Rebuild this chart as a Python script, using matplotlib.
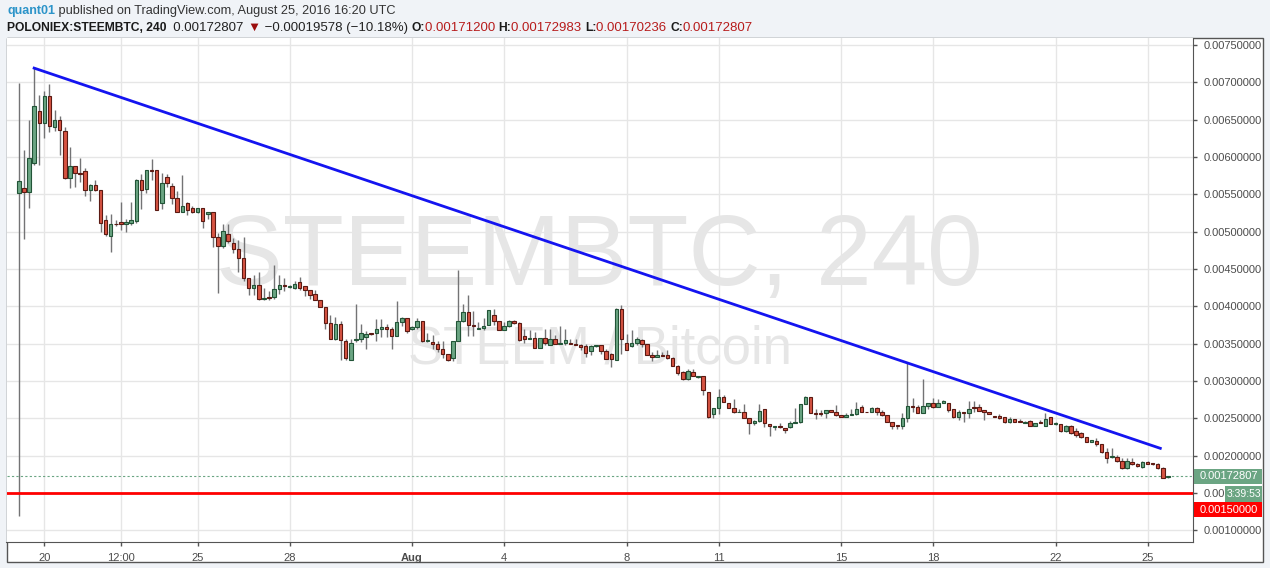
import numpy as np
import pandas as pd
import matplotlib
matplotlib.use('Agg')
import matplotlib.pyplot as plt
import matplotlib.dates as mdates
import matplotlib.transforms as mtransforms
from matplotlib.patches import Rectangle

plt.rcParams['font.family'] = ['Liberation Sans', 'DejaVu Sans']

# POLONIEX:STEEMBTC, 4h candles
start_time = '2016-07-19 04:00'

opens = [
    0.005524, 0.005591, 0.005533, 0.005913, 0.00662, 0.00645, 0.006812, 0.006396, 0.00649, 0.006347,
    0.005725, 0.005886, 0.005792, 0.005819, 0.005564, 0.005631, 0.005564, 0.005161, 0.004946, 0.005107,
    0.005134, 0.005107, 0.005116, 0.005143, 0.005688, 0.005567, 0.005821, 0.005821, 0.005388, 0.005732,
    0.005607, 0.005446, 0.005263, 0.005379, 0.005312, 0.005263, 0.005312, 0.005232, 0.005259, 0.004924,
    0.004804, 0.004973, 0.004844, 0.004763, 0.004643, 0.004375, 0.004248, 0.004288, 0.004101, 0.00412,
    0.004123, 0.004235, 0.004288, 0.004257, 0.004248, 0.004328, 0.004275, 0.004221, 0.004168, 0.004079,
    0.00399, 0.003781, 0.003567, 0.003767, 0.003536, 0.003278, 0.003545, 0.003558, 0.003586, 0.00364,
    0.00364, 0.003697, 0.003729, 0.003697, 0.0036, 0.003795, 0.003844, 0.003697, 0.003729, 0.003804,
    0.003542, 0.00353, 0.003497, 0.00343, 0.003364, 0.003306, 0.003542, 0.003804, 0.003929, 0.003751,
    0.003701, 0.00371, 0.003755, 0.003888, 0.0038, 0.003688, 0.003737, 0.0038, 0.003782, 0.003603,
    0.003567, 0.00358, 0.003447, 0.00358, 0.003487, 0.003567, 0.0035, 0.003514, 0.003514, 0.0035,
    0.003487, 0.003465, 0.003398, 0.003465, 0.003478, 0.0034, 0.003368, 0.003279, 0.00396, 0.003515,
    0.003471, 0.003515, 0.003555, 0.003502, 0.003355, 0.003324, 0.00335, 0.003346, 0.003315, 0.003203,
    0.003123, 0.003025, 0.003123, 0.003057, 0.00307, 0.002848, 0.002554, 0.002634, 0.002781, 0.00271,
    0.002643, 0.00259, 0.00259, 0.0025, 0.002434, 0.002469, 0.002621, 0.002425, 0.002389, 0.002398,
    0.002367, 0.002389, 0.002434, 0.002456, 0.002692, 0.002781, 0.00257, 0.00257, 0.002567, 0.002612,
    0.002581, 0.002545, 0.002514, 0.002545, 0.002554, 0.002657, 0.00259, 0.002581, 0.002634, 0.002581,
    0.002545, 0.002447, 0.002411, 0.002393, 0.0025, 0.002665, 0.00265, 0.002567, 0.002665, 0.002701,
    0.002656, 0.002701, 0.002701, 0.00262, 0.002522, 0.00258, 0.002567, 0.002647, 0.002647, 0.002612,
    0.00258, 0.002536, 0.002536, 0.002513, 0.002455, 0.002491, 0.00246, 0.002433, 0.002464, 0.002402,
    0.002455, 0.002402, 0.002513, 0.002429, 0.00242, 0.00233, 0.002402, 0.00233, 0.0023, 0.002255,
    0.00219, 0.0022, 0.002152, 0.002054, 0.001987, 0.001978, 0.001929, 0.001831, 0.00192, 0.001885,
    0.001845, 0.001911, 0.001898, 0.001885, 0.001831, 0.001712,
]
highs = [
    0.006987, 0.006092, 0.006494, 0.007188, 0.00683, 0.006884, 0.006978, 0.006629, 0.006548, 0.006405,
    0.006128, 0.005886, 0.005993, 0.005859, 0.005644, 0.005689, 0.005564, 0.005219, 0.005233, 0.00515,
    0.005398, 0.005175, 0.005398, 0.0057, 0.005768, 0.00583, 0.00597, 0.005821, 0.00579, 0.00577,
    0.005656, 0.005545, 0.005759, 0.0054, 0.005344, 0.00532, 0.00532, 0.005259, 0.005259, 0.004987,
    0.005098, 0.005107, 0.00492, 0.004884, 0.004929, 0.004375, 0.004426, 0.004466, 0.004248, 0.004203,
    0.004559, 0.004426, 0.004381, 0.00428, 0.004346, 0.004399, 0.004275, 0.004221, 0.004221, 0.004079,
    0.00399, 0.003879, 0.003857, 0.0038, 0.00357, 0.00357, 0.004034, 0.003758, 0.003675, 0.00365,
    0.003831, 0.003831, 0.003764, 0.003729, 0.004067, 0.003862, 0.003844, 0.00374, 0.003844, 0.003804,
    0.00364, 0.003622, 0.003542, 0.003542, 0.003364, 0.003542, 0.004485, 0.004031, 0.004156, 0.003942,
    0.00379, 0.003844, 0.003946, 0.003969, 0.0038, 0.00379, 0.003813, 0.003813, 0.00379, 0.003692,
    0.00368, 0.003657, 0.00358, 0.003692, 0.003692, 0.003612, 0.003732, 0.003692, 0.00357, 0.00357,
    0.0035, 0.0035, 0.003478, 0.003478, 0.003478, 0.003434, 0.00338, 0.003978, 0.004013, 0.003635,
    0.00368, 0.00359, 0.003568, 0.003502, 0.00339, 0.003413, 0.00339, 0.003413, 0.003324, 0.003221,
    0.003132, 0.003159, 0.003159, 0.00307, 0.00307, 0.002848, 0.002634, 0.002888, 0.002813, 0.00271,
    0.002755, 0.00262, 0.002692, 0.00251, 0.002478, 0.002692, 0.002621, 0.002425, 0.002405, 0.002434,
    0.002367, 0.002469, 0.002634, 0.002692, 0.002799, 0.002781, 0.002621, 0.002608, 0.002612, 0.002612,
    0.002679, 0.002545, 0.002567, 0.002625, 0.002715, 0.002679, 0.00259, 0.002657, 0.002657, 0.002612,
    0.002545, 0.002447, 0.002411, 0.002567, 0.003236, 0.002768, 0.00268, 0.003027, 0.002701, 0.002768,
    0.002759, 0.002745, 0.002701, 0.00262, 0.002612, 0.00258, 0.002732, 0.002732, 0.0027, 0.002612,
    0.00258, 0.002536, 0.002553, 0.002522, 0.002522, 0.002491, 0.002491, 0.00246, 0.002478, 0.002433,
    0.002478, 0.002567, 0.002522, 0.002455, 0.00243, 0.00241, 0.002415, 0.002366, 0.00232, 0.002255,
    0.00221, 0.002232, 0.002152, 0.002099, 0.002099, 0.00201, 0.001965, 0.001965, 0.001974, 0.001898,
    0.001929, 0.001933, 0.001905, 0.001898, 0.001853, 0.00172983,
]
lows = [
    0.001193, 0.004906, 0.005318, 0.00589, 0.00589, 0.006257, 0.006338, 0.006347, 0.006025, 0.005712,
    0.005586, 0.0056, 0.005667, 0.005479, 0.005412, 0.005546, 0.004996, 0.004942, 0.004727, 0.00508,
    0.005027, 0.004996, 0.005085, 0.00512, 0.005299, 0.005522, 0.005688, 0.005286, 0.0053, 0.0056,
    0.005366, 0.00526, 0.00526, 0.005223, 0.005246, 0.00525, 0.005054, 0.005165, 0.004795, 0.004183,
    0.004786, 0.00485, 0.004719, 0.004464, 0.00434, 0.00415, 0.004159, 0.00409, 0.004079, 0.00408,
    0.004101, 0.004168, 0.004204, 0.00425, 0.004239, 0.00422, 0.004145, 0.0041, 0.004079, 0.00399,
    0.003692, 0.003567, 0.003545, 0.003287, 0.003287, 0.003278, 0.003523, 0.003523, 0.00343, 0.00362,
    0.003542, 0.00359, 0.003586, 0.00343, 0.0036, 0.00374, 0.00364, 0.00368, 0.003697, 0.00352,
    0.00352, 0.00343, 0.003386, 0.00331, 0.003266, 0.00327, 0.00354, 0.003786, 0.003608, 0.003608,
    0.0037, 0.003679, 0.003746, 0.003746, 0.003679, 0.003679, 0.003725, 0.00377, 0.003536, 0.003514,
    0.003567, 0.003447, 0.003447, 0.003478, 0.003478, 0.00349, 0.0035, 0.003487, 0.0035, 0.00348,
    0.00342, 0.003322, 0.003353, 0.00345, 0.003368, 0.003301, 0.00319, 0.003279, 0.003368, 0.003413,
    0.003458, 0.003478, 0.00346, 0.003346, 0.003266, 0.003324, 0.00333, 0.003301, 0.003203, 0.003079,
    0.003012, 0.003012, 0.00307, 0.003035, 0.002812, 0.0025, 0.0025, 0.002554, 0.002723, 0.002643,
    0.002567, 0.00258, 0.0025, 0.002291, 0.002415, 0.002456, 0.002389, 0.002264, 0.002345, 0.002367,
    0.002309, 0.002367, 0.002434, 0.002443, 0.002692, 0.002567, 0.002487, 0.002527, 0.0025, 0.002581,
    0.002536, 0.002514, 0.002514, 0.002545, 0.002545, 0.002581, 0.002581, 0.002581, 0.002545, 0.002536,
    0.002447, 0.002358, 0.002358, 0.002358, 0.002456, 0.002581, 0.002567, 0.002567, 0.002621, 0.002634,
    0.002656, 0.002701, 0.00259, 0.0025, 0.002478, 0.002446, 0.0025, 0.00259, 0.002594, 0.002478,
    0.002562, 0.002522, 0.002491, 0.002433, 0.002433, 0.002446, 0.002446, 0.002433, 0.002402, 0.002402,
    0.002433, 0.002402, 0.00242, 0.00241, 0.00232, 0.00232, 0.00229, 0.002255, 0.00224, 0.00218,
    0.002185, 0.002134, 0.002032, 0.001898, 0.001965, 0.001911, 0.001822, 0.001822, 0.001876, 0.00185,
    0.00184, 0.001885, 0.00188, 0.001822, 0.001697, 0.00170236,
]
closes = [
    0.00568, 0.005537, 0.00598, 0.006678, 0.00645, 0.006812, 0.006409, 0.00649, 0.006356, 0.005725,
    0.005886, 0.005792, 0.005774, 0.005564, 0.005631, 0.005564, 0.005121, 0.004973, 0.005107, 0.0051,
    0.005107, 0.005134, 0.005161, 0.005688, 0.005554, 0.005821, 0.005815, 0.005286, 0.005656, 0.005647,
    0.005446, 0.005263, 0.005339, 0.00529, 0.005263, 0.005312, 0.005138, 0.005259, 0.004924, 0.004804,
    0.005009, 0.004875, 0.004763, 0.004643, 0.004375, 0.004241, 0.004288, 0.004101, 0.00411, 0.004112,
    0.004235, 0.004288, 0.00427, 0.004271, 0.004301, 0.004248, 0.004221, 0.004146, 0.004079, 0.00399,
    0.003781, 0.003567, 0.003767, 0.003545, 0.003313, 0.003509, 0.003558, 0.003643, 0.003631, 0.003631,
    0.003697, 0.003729, 0.003697, 0.0036, 0.003795, 0.003844, 0.003666, 0.003729, 0.003804, 0.003542,
    0.003555, 0.003497, 0.00343, 0.003364, 0.003284, 0.003542, 0.003809, 0.003929, 0.003751, 0.003733,
    0.003715, 0.003732, 0.003946, 0.003804, 0.003688, 0.003732, 0.0038, 0.003782, 0.003545, 0.003567,
    0.00358, 0.003447, 0.00358, 0.003514, 0.003567, 0.0035, 0.003514, 0.003554, 0.0035, 0.003487,
    0.003456, 0.00338, 0.003465, 0.003478, 0.0034, 0.003301, 0.003292, 0.00396, 0.003568, 0.003422,
    0.003515, 0.003568, 0.003493, 0.003355, 0.003324, 0.003355, 0.00334, 0.003315, 0.003203, 0.003114,
    0.003025, 0.003132, 0.00307, 0.00307, 0.002879, 0.002514, 0.002634, 0.002781, 0.002723, 0.002643,
    0.00259, 0.00259, 0.0025, 0.002434, 0.002469, 0.002599, 0.002434, 0.002398, 0.002398, 0.00239,
    0.002349, 0.002434, 0.002456, 0.002692, 0.002781, 0.002576, 0.002554, 0.002558, 0.002612, 0.002581,
    0.002545, 0.002514, 0.002545, 0.002558, 0.002625, 0.00259, 0.002581, 0.002634, 0.002581, 0.002545,
    0.002447, 0.002402, 0.002393, 0.0025, 0.002665, 0.002648, 0.002567, 0.002665, 0.002701, 0.002648,
    0.002701, 0.002732, 0.002612, 0.002522, 0.00258, 0.002567, 0.00262, 0.002638, 0.002603, 0.00258,
    0.002562, 0.002522, 0.0025, 0.002455, 0.002491, 0.002455, 0.002455, 0.002446, 0.002402, 0.002433,
    0.002433, 0.002491, 0.00242, 0.002433, 0.00233, 0.002402, 0.0023, 0.002277, 0.002255, 0.002188,
    0.002205, 0.002152, 0.002054, 0.001965, 0.001996, 0.001929, 0.001831, 0.001929, 0.001885, 0.001862,
    0.001911, 0.001893, 0.001885, 0.001831, 0.001706, 0.00172807,
]

tick_dates = ['2016-07-20 00:00', '2016-07-22 12:00', '2016-07-25 00:00', '2016-07-28 00:00',
              '2016-08-01 00:00', '2016-08-04 00:00', '2016-08-08 00:00', '2016-08-11 00:00',
              '2016-08-15 00:00', '2016-08-18 00:00', '2016-08-22 00:00', '2016-08-25 00:00']
tick_labels = ['20', '12:00', '25', '28', 'Aug', '4', '8', '11', '15', '18', '22', '25']
price_ticks = [0.0010, 0.0015, 0.0020, 0.0025, 0.0030, 0.0035, 0.0040,
               0.0045, 0.0050, 0.0055, 0.0060, 0.0065, 0.0070, 0.0075]

# drawn lines
trend_x = ['2016-07-19 16:00', '2016-08-25 10:00']
trend_y = [0.00719, 0.00210]
support_level = 0.0015
last_price = 0.00172807
countdown = '3:39:53'

# ---- figure layout (pixels) ----
W, H = 1270, 568
def fx(px):
    return px / W
def fy(py):
    return 1 - py / H

BORDER = '#555555'
fig = plt.figure(figsize=(W / 100, H / 100), dpi=100, facecolor='#f0f3f7')
fig.add_artist(Rectangle((fx(6.5), fy(561.5)), fx(1262.5) - fx(6.5), fy(38) - fy(561.5),
                         transform=fig.transFigure, facecolor='white', edgecolor=BORDER,
                         lw=1, zorder=0))
ax = fig.add_axes([fx(6.5), fy(542), fx(1193) - fx(6.5), fy(38) - fy(542)])
ax.set_facecolor('white')

times = pd.date_range(start_time, periods=len(closes), freq='4h')
xt = mdates.date2num(times)
step = 1 / 6
o = np.array(opens)
c = np.array(closes)
up = c >= o

ax.vlines(xt, lows, highs, color='#737375', lw=1, zorder=2)
ax.bar(xt[up], (c - o)[up], bottom=o[up], width=0.68 * step, color='#6ba583',
       edgecolor='#225437', lw=0.8, zorder=3)
ax.bar(xt[~up], (o - c)[~up], bottom=c[~up], width=0.68 * step, color='#d75442',
       edgecolor='#5b1a13', lw=0.8, zorder=3)

ax.plot(mdates.date2num(pd.to_datetime(trend_x)), trend_y, color='#1414f0', lw=2, zorder=4)
ax.axhline(support_level, color='#ff0000', lw=2, zorder=4)
ax.axhline(last_price, color='#6ba583', lw=0.8, ls=(0, (2, 2)), zorder=1.5)

ymin, ymax = 0.000846, 0.007593
ax.set_ylim(ymin, ymax)
ax.set_xlim(xt[0] - 2.41 * step, xt[0] + 229.9 * step)

# watermark
ax.text(0.5, 0.5615, 'STEEMBTC, 240', transform=ax.transAxes, ha='center', va='center',
        fontsize=72, color='#e6e6e6', zorder=0.5)
ax.text(0.5, 0.381, 'STEEM / Bitcoin', transform=ax.transAxes, ha='center', va='center',
        fontsize=38, color='#e6e6e6', zorder=0.5)

# axes; the 0.0015 label is mostly hidden by the countdown tag, only "0.00" shows
ax.set_xticks(mdates.date2num(pd.to_datetime(tick_dates)))
ax.set_xticklabels(tick_labels)
for lab in ax.get_xticklabels():
    if lab.get_text() == 'Aug':
        lab.set_fontweight('bold')
ax.set_yticks(price_ticks)
ax.set_yticklabels(['0.00' if p == support_level else f'{p:.8f}' for p in price_ticks])
ax.yaxis.tick_right()
ax.tick_params(axis='both', length=3, width=1, color=BORDER, labelcolor='#4c4c4c', labelsize=8)
ax.tick_params(axis='x', pad=5)
ax.tick_params(axis='y', pad=5)
ax.grid(True, color='#e6e6e6', lw=1)
ax.set_axisbelow(True)
for side in ['top', 'left']:
    ax.spines[side].set_visible(False)
for side in ['right', 'bottom']:
    ax.spines[side].set_color(BORDER)

# price tags on the right scale
blend = mtransforms.blended_transform_factory(fig.transFigure, ax.transData)
ppx = (ymax - ymin) / (542 - 38)

def tag(price, text, fc, x0, dy_px, h_px, right_align=False, fs=8):
    yc = price - dy_px * ppx
    ax.add_patch(Rectangle((fx(x0), yc - h_px * ppx / 2), fx(1262) - fx(x0), h_px * ppx,
                           transform=blend, facecolor=fc, edgecolor='none',
                           clip_on=False, zorder=6))
    if right_align:
        ax.text(fx(1261), yc, text, transform=blend, ha='right', va='center', fontsize=fs,
                color='white', clip_on=False, zorder=7)
    else:
        ax.text(fx(1200), yc, text, transform=blend, ha='left', va='center', fontsize=fs,
                color='white', clip_on=False, zorder=7)

tag(last_price, f'{last_price:.8f}', '#6ba583', 1193.5, 0, 15)
tag(last_price, countdown, '#6ba583', 1225, 18, 16, right_align=True, fs=7.5)
tag(support_level, f'{support_level:.8f}', '#ff0000', 1193.5, 16.5, 15)

# header lines
def chain(parts, x, y):
    s, col, wt, fs = parts[0]
    prev = fig.text(fx(x), fy(y), s, color=col, fontsize=fs, fontweight=wt, va='center')
    for s, col, wt, fs in parts[1:]:
        prev = ax.annotate(s, xy=(1, 0.5), xycoords=prev, ha='left', va='center', color=col,
                           fontsize=fs, fontweight=wt, annotation_clip=False)

NF, BF = 9.5, 8.7
chain([('quant01', '#2c94c9', 'bold', 9.0),
       (' published on TradingView.com, August 25, 2016 16:20 UTC', '#333333', 'normal', 9.2)],
      7, 11)
RED = '#b71c1c'
DARK = '#1a1a1a'
chain([('POLONIEX:STEEMBTC, 240', DARK, 'bold', BF),
       ('  0.00172807 ', '#222222', 'normal', NF),
       ('▼', '#9b0d0d', 'normal', NF),
       (' \u22120.00019578 (\u221210.18%) ', '#222222', 'normal', NF),
       ('O:', DARK, 'bold', BF), ('0.00171200 ', RED, 'normal', NF),
       ('H:', DARK, 'bold', BF), ('0.00172983 ', RED, 'normal', NF),
       ('L:', DARK, 'bold', BF), ('0.00170236 ', RED, 'normal', NF),
       ('C:', DARK, 'bold', BF), ('0.00172807', RED, 'normal', NF)], 7, 28)

fig.savefig('out.png', dpi=100, facecolor=fig.get_facecolor())
